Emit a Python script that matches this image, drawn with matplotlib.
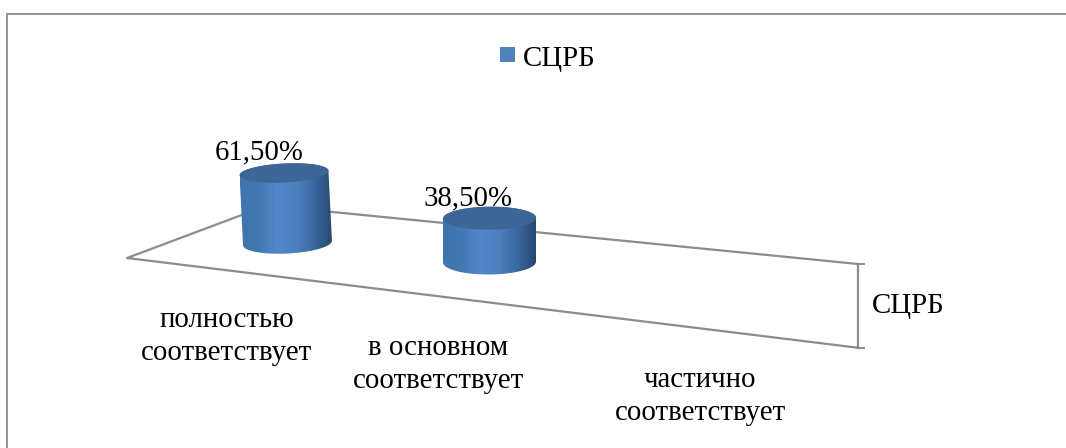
import numpy as np
import matplotlib
matplotlib.use("Agg")
import matplotlib.pyplot as plt
from matplotlib.colors import LinearSegmentedColormap
from matplotlib.patches import PathPatch, Rectangle
from matplotlib.path import Path
from matplotlib.transforms import Affine2D

categories = ["полностью\nсоответствует", "в основном\nсоответствует", "частично\nсоответствует"]
series_name = "СЦРБ"
values = [61.5, 38.5]
value_labels = ["61,50%", "38,50%"]

W, H = 1066, 448
plt.rcParams["font.family"] = ["Liberation Serif", "DejaVu Serif"]
fig = plt.figure(figsize=(W / 100, H / 100), dpi=100, facecolor="white")
ax = fig.add_axes([0, 0, 1, 1])
ax.set_xlim(0, W)
ax.set_ylim(H, 0)
ax.axis("off")

GRID = "#8c8c8c"
FS = 20.8

# (category, value) -> pixel position on the oblique plot plane
plane = Affine2D.from_values(202, 19, 0, -1.138, 287.5, 243)
def project(cat, val):
    return plane.transform((cat, val))

# frame
ax.plot([7, 7, W], [H, 14, 14], color="#8a8a8a", lw=1.3, solid_joinstyle="miter", zorder=1)

# floor and depth axis
ax.plot([860, 127, 267, 858, 858], [348, 258, 205.5, 264, 348], color=GRID, lw=1.6, zorder=2,
        solid_joinstyle="round")
ax.plot([858, 864], [264, 264], color=GRID, lw=1.4, zorder=2)
ax.plot([858, 864], [348, 348], color=GRID, lw=1.4, zorder=2)

cmap = LinearSegmentedColormap.from_list(
    "cyl", ["#3f74ad", "#4377b2", "#5287cc", "#4c80bf", "#3a689f", "#27486f"])
gradient = np.linspace(0, 1, 256)[None, :]

half_w = [44.5, 46.5]
depth = [9.5, 11.5]
tilt = [-3.0, -0.5]
lean = [-3.5, 0.0]

def ellipse(cx, cy, a, b, deg, t0, t1, n=60):
    t = np.radians(np.linspace(t0, t1, n))
    x, y = a * np.cos(t), b * np.sin(t)
    r = np.radians(deg)
    return cx + x * np.cos(r) - y * np.sin(r), cy + x * np.sin(r) + y * np.cos(r)

# data labels sit behind the cylinders
label_pos = [(259, 152), (468, 198)]
for (lx, ly), txt in zip(label_pos, value_labels):
    ax.text(lx, ly, txt, ha="center", va="center", fontsize=FS, color="black", zorder=3)

for i, v in enumerate(values):
    bx, by = project(i, 0)
    tx, ty = project(i, v)
    tx += lean[i]
    a, b = half_w[i], depth[i]
    # side wall: lower half of the base ellipse + upper rim
    xb, yb = ellipse(bx, by, a, b + 1, tilt[i], 0, 180)
    xt, yt = ellipse(tx, ty, a, b, tilt[i], 180, 360)
    verts = np.column_stack([np.r_[xb, xt], np.r_[yb, yt]])
    clip = PathPatch(Path(np.vstack([verts, verts[0]])), fc="none", ec="none", transform=ax.transData)
    ax.add_patch(clip)
    im = ax.imshow(gradient, cmap=cmap, aspect="auto", zorder=4,
                   extent=(min(bx, tx) - a, max(bx, tx) + a, H, 0))
    im.set_clip_path(clip)
    xe, ye = ellipse(tx, ty, a, b, tilt[i], 0, 360)
    ax.fill(xe, ye, color="#3d6595", lw=0, zorder=5)

ax.set_xlim(0, W)
ax.set_ylim(H, 0)

# category labels
cat_pos = [(227, 336.5), (438, 364.5), (700, 396.5)]
for (cx, cy), txt in zip(cat_pos, categories):
    ax.text(cx, cy, txt, ha="center", va="center", fontsize=FS, linespacing=1.38, zorder=6)

# depth axis label
ax.text(908, 306, series_name, ha="center", va="center", fontsize=FS, zorder=6)

# legend
ax.add_patch(Rectangle((500, 47), 15, 15, fc="#4f81bd", ec="none", zorder=6))
ax.text(559, 59, series_name, ha="center", va="center", fontsize=FS, zorder=6)

fig.savefig("out.png", dpi=100)
